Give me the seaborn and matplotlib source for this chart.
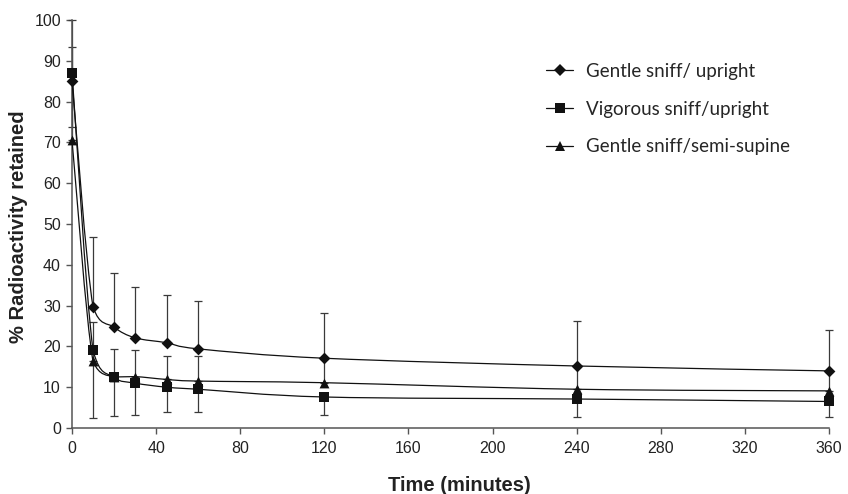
import numpy as np
import pandas as pd
import matplotlib
matplotlib.use("Agg")
import matplotlib.pyplot as plt
import seaborn as sns
from matplotlib.path import Path
from matplotlib.patches import PathPatch
from matplotlib.lines import Line2D

# ============================================
# Data
# ============================================

time_min = [0, 10, 20, 30, 45, 60, 120, 240, 360]

series_names = [
    "Gentle sniff/ upright",
    "Vigorous sniff/upright",
    "Gentle sniff/semi-supine",
]

gentle_upright = [85.1, 29.7, 24.7, 22.1, 20.9, 19.4, 17.1, 15.2, 14.0]
vigorous_upright = [87.1, 19.1, 12.4, 11.0, 10.0, 9.5, 7.6, 7.1, 6.5]
gentle_semisupine = [70.6, 16.3, 12.5, 12.6, 11.9, 11.5, 11.1, 9.5, 9.1]

# one-sided error bars, as drawn in the original
gentle_upright_err_up = [14.9, 17.0, 13.4, 12.5, 11.6, 11.7, 11.2, 11.0, 9.9]
vigorous_upright_err_down = [13.3, 16.7, 9.4, 7.7, 6.2, 5.7, 4.4, 4.3, 3.9]
gentle_semisupine_err_up = [22.8, 9.8, 6.9, 6.6, 5.8, 6.2, 5.7, 5.4, 4.6]


# ============================================
# Style
# ============================================

sns.set_style("ticks")
plt.rcParams["font.family"] = ["Liberation Sans", "DejaVu Sans"]

fig = plt.figure(figsize=(8.48, 4.94), dpi=100)
ax = fig.add_axes([72 / 848, 1 - 428 / 494, (829 - 72) / 848, (428 - 20) / 494])


# Excel-like smoothed line through the data points
def smooth_path(x, y):
    pts = np.column_stack([x, y]).astype(float)
    n = len(pts)
    verts = [pts[0]]
    codes = [Path.MOVETO]
    for i in range(n - 1):
        p0 = pts[i - 1] if i > 0 else pts[i]
        p1 = pts[i]
        p2 = pts[i + 1]
        p3 = pts[i + 2] if i + 2 < n else pts[i + 1]
        c1 = p1 + (p2 - p0) / 6
        c2 = p2 - (p3 - p1) / 6
        lo, hi = min(p1[1], p2[1]), max(p1[1], p2[1])
        c1[1] = np.clip(c1[1], lo, hi)
        c2[1] = np.clip(c2[1], lo, hi)
        verts += [c1, c2, p2]
        codes += [Path.CURVE4] * 3
    return Path(verts, codes)


all_values = [gentle_upright, vigorous_upright, gentle_semisupine]
markers = ["D", "s", "^"]
marker_sizes = [36, 46, 50]

zeros = [0] * len(time_min)
err_list = [
    [zeros, gentle_upright_err_up],
    [vigorous_upright_err_down, zeros],
    [zeros, gentle_semisupine_err_up],
]

for vals, err in zip(all_values, err_list):
    ax.errorbar(time_min, vals, yerr=err, fmt="none", ecolor="#3a3a3a",
                elinewidth=0.9, capsize=3, capthick=0.9, zorder=2,
                clip_on=False)

for vals in all_values:
    ax.add_patch(PathPatch(smooth_path(time_min, vals), facecolor="none",
                           edgecolor="#111111", lw=0.9, zorder=3))

for vals, m, s in zip(all_values, markers, marker_sizes):
    sns.scatterplot(x=time_min, y=vals, marker=m, s=s, color="#111111",
                    edgecolor="#111111", linewidth=0, zorder=4, ax=ax,
                    clip_on=False)


# ============================================
# Axes
# ============================================

ax.set_xlim(0, 360)
ax.set_ylim(0, 100)
ax.set_xticks(range(0, 361, 40))
ax.set_yticks(range(0, 101, 10))

sns.despine(ax=ax)
for side in ["left", "bottom"]:
    ax.spines[side].set_color("#555555")
    ax.spines[side].set_linewidth(1.1)

ax.tick_params(axis="both", direction="out", length=4, width=1,
               color="#555555", labelsize=11.5, labelcolor="#222222")
ax.tick_params(axis="x", pad=5.5)
ax.tick_params(axis="y", pad=4)

ax.set_xlabel("Time (minutes)", fontsize=14.5, fontweight="bold",
              color="#222222")
ax.set_ylabel("% Radioactivity retained", fontsize=14.5, fontweight="bold",
              color="#222222")
ax.xaxis.set_label_coords((459 - 72) / 757, -0.117)
ax.yaxis.set_label_coords(-0.058, 0.494)


# ============================================
# Legend
# ============================================

handles = [
    Line2D([], [], color="#111111", lw=0.9, marker=m, markersize=ms,
           markeredgewidth=0)
    for m, ms in zip(markers, [6, 6.8, 7])
]

ax.legend(handles, series_names, loc="upper left",
          bbox_to_anchor=(546 / 848, 1 - 63 / 494),
          bbox_transform=fig.transFigure, frameon=False,
          prop={"family": ["Lato", "DejaVu Sans"], "size": 13.5},
          handlelength=1.45, handletextpad=0.7, labelspacing=1.1,
          borderpad=0, borderaxespad=0)

fig.savefig("out.png", dpi=100)
